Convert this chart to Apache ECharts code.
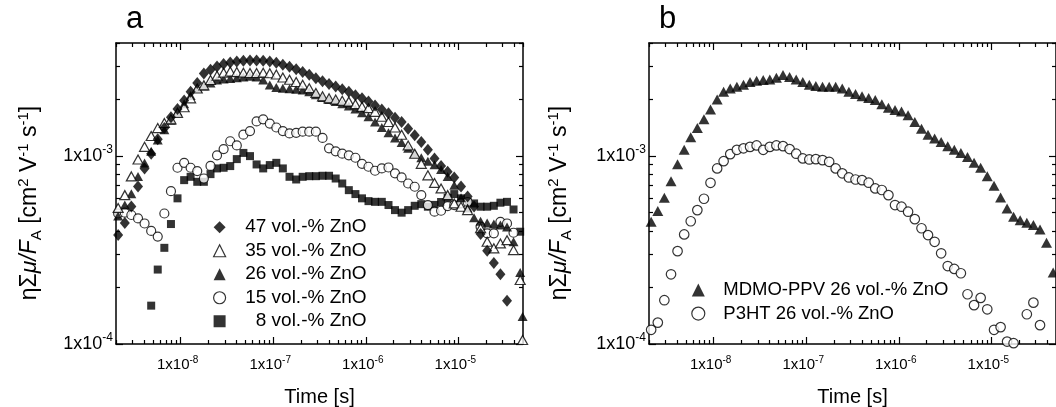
<!DOCTYPE html>
<html>
<head>
<meta charset="utf-8">
<title>Transient photoconductivity vs. time</title>
<script src="https://cdn.jsdelivr.net/npm/echarts@6.0.0/dist/echarts.min.js"></script>
<style>
  html, body { margin: 0; padding: 0; background: #fff; }
  #chart { width: 1056px; height: 407px; }
</style>
</head>
<body>
<div id="chart"></div>
<script>
// Common time base of the transients [s]
const times = [
  2.11e-9, 2.49e-9, 2.93e-9, 3.46e-9, 4.07e-9, 4.80e-9, 5.65e-9, 6.66e-9, 7.85e-9, 9.24e-9,
  1.09e-8, 1.28e-8, 1.51e-8, 1.78e-8, 2.10e-8, 2.47e-8, 2.91e-8, 3.43e-8, 4.04e-8, 4.76e-8,
  5.61e-8, 6.61e-8, 7.79e-8, 9.18e-8, 1.08e-7, 1.27e-7, 1.50e-7, 1.77e-7, 2.08e-7, 2.45e-7,
  2.89e-7, 3.41e-7, 4.01e-7, 4.73e-7, 5.57e-7, 6.56e-7, 7.73e-7, 9.11e-7, 1.07e-6, 1.26e-6,
  1.49e-6, 1.76e-6, 2.07e-6, 2.44e-6, 2.87e-6, 3.38e-6, 3.98e-6, 4.69e-6, 5.53e-6, 6.51e-6,
  7.67e-6, 9.04e-6, 1.07e-5, 1.26e-5, 1.48e-5, 1.74e-5, 2.05e-5, 2.42e-5, 2.85e-5, 3.36e-5,
  3.95e-5, 4.66e-5, 4.95e-5
];

// eta*Sum(mu)/F_A in units of 1e-3 cm^2 V^-1 s^-1, one entry per time point
const UNIT = 1e-3;

// Panel a: MDMO-PPV blends with different ZnO content
const zno47 = [
  0.38, 0.44, 0.54, 0.69, 0.86, 1.03, 1.23, 1.41, 1.61, 1.78,
  1.98, 2.2, 2.45, 2.75, 2.88, 3.0, 3.09, 3.15, 3.19, 3.22,
  3.23, 3.23, 3.22, 3.19, 3.14, 3.06, 2.99, 2.9, 2.8, 2.71,
  2.6, 2.5, 2.42, 2.35, 2.27, 2.2, 2.11, 2.03, 1.95, 1.86,
  1.77, 1.69, 1.6, 1.52, 1.4, 1.29, 1.19, 1.08, 0.97, 0.885,
  0.826, 0.77, 0.69, 0.61, 0.54, 0.385, 0.314, 0.27, 0.235, 0.17,
  null, null, null
];
const zno35 = [
  0.53, 0.62, 0.78, 0.96, 1.12, 1.28, 1.41, 1.5, 1.57, 1.7,
  1.82, 2.03, 2.29, 2.38, 2.54, 2.68, 2.78, 2.82, 2.8, 2.78,
  2.77, 2.77, 2.78, 2.76, 2.72, 2.62, 2.55, 2.48, 2.4, 2.3,
  2.17, 2.08, 2.03, 2.0, 1.97, 1.95, 1.89, 1.83, 1.8, 1.72,
  1.62, 1.52, 1.42, 1.3, 1.14, 1.03, 0.91, 0.79, 0.72, 0.673,
  0.62, 0.56, 0.538, 0.516, null, 0.413, 0.35, 0.323, 0.343, 0.357,
  0.316, 0.219, 0.105
];
const zno26 = [
  0.48, 0.55, 0.63, 0.78, 0.92, 1.06, 1.22, 1.38, 1.55, 1.72,
  1.9, 2.1, 2.3, 2.36, 2.45, 2.54, 2.57, 2.59, 2.61, 2.64,
  2.66, 2.64, 2.54, 2.39, 2.32, 2.3, 2.28, 2.27, 2.25, 2.2,
  2.12, 2.05, 2.0, 1.95, 1.9, 1.85, 1.78, 1.7, 1.62, 1.52,
  1.42, 1.33, 1.25, 1.18, 1.1, 1.03, 0.98, 0.94, 0.9, 0.85,
  0.78, 0.7, 0.6, 0.53, 0.47, 0.45, 0.44, 0.435, 0.43, 0.42,
  0.35, 0.24, 0.14
];
const zno15 = [
  0.495, 0.5, 0.486, 0.466, 0.438, 0.4, 0.373, 0.495, 0.651, 0.867,
  0.921, 0.867, 0.832, 0.76, 0.887, 1.01, 1.09, 1.2, 1.14, 1.3,
  1.36, 1.53, 1.57, 1.49, 1.42, 1.36, 1.32, 1.33, 1.35, 1.35,
  1.35, 1.25, 1.1, 1.06, 1.03, 1.01, 0.98, 0.91, 0.878, 0.836,
  0.86, 0.87, 0.81, 0.77, 0.715, 0.687, 0.62, 0.549, 0.506, 0.512,
  0.542, 0.549, 0.56, 0.57, null, 0.421, 0.388, 0.388, 0.447, 0.438,
  0.391, null, null
];
const zno8 = [
  null, null, null, null, null, 0.16, 0.249, 0.325, 0.435, 0.596,
  0.745, 0.776, 0.73, 0.73, 0.802, 0.86, 0.867, 0.885, 0.964, 1.04,
  1.0, 0.903, 0.86, 0.896, 0.921, 0.86, 0.776, 0.751, 0.776, 0.782,
  0.782, 0.786, 0.786, 0.76, 0.715, 0.659, 0.628, 0.596, 0.576, 0.571,
  0.571, 0.549, 0.516, 0.5, 0.516, 0.544, 0.555, 0.538, 0.55, 0.57,
  0.6, 0.628, 0.596, 0.57, 0.56, 0.538, 0.538, 0.544, 0.565, 0.571,
  0.52, 0.396, null
];

// Panel b: MDMO-PPV vs. P3HT, both with 26 vol.-% ZnO
const mdmoPpv26 = [
  0.447, 0.51, 0.6, 0.736, 0.906, 1.08, 1.26, 1.41, 1.57, 1.77,
  2.0, 2.2, 2.29, 2.34, 2.4, 2.48, 2.52, 2.54, 2.56, 2.61,
  2.7, 2.64, 2.56, 2.48, 2.4, 2.36, 2.34, 2.34, 2.34, 2.29,
  2.2, 2.14, 2.08, 2.04, 1.99, 1.89, 1.81, 1.76, 1.73, 1.65,
  1.52, 1.4, 1.3, 1.24, 1.19, 1.13, 1.08, 1.04, 0.99, 0.921,
  0.867, 0.782, 0.695, 0.603, 0.527, 0.476, 0.456, 0.442, 0.43, 0.407,
  0.346, 0.24, null
];
const p3ht26 = [
  0.119, 0.13, 0.171, 0.235, 0.312, 0.383, 0.45, 0.516, 0.593, 0.721,
  0.86, 0.94, 1.025, 1.08, 1.1, 1.12, 1.14, 1.08, 1.12, 1.14,
  1.13, 1.09, 1.03, 0.972, 0.96, 0.964, 0.952, 0.933, 0.86, 0.81,
  0.77, 0.751, 0.745, 0.722, 0.673, 0.66, 0.62, 0.549, 0.538, 0.506,
  0.462, 0.413, 0.38, 0.35, 0.304, 0.26, 0.251, 0.238, 0.184, 0.161,
  0.176, 0.153, 0.119, 0.123, 0.103, 0.101, null, 0.144, 0.166, 0.126,
  null, null, null
];

// Series names
const namesA = ['47 vol.-% ZnO', '35 vol.-% ZnO', '26 vol.-% ZnO', '15 vol.-% ZnO', '8 vol.-% ZnO'];
const namesB = ['MDMO-PPV 26 vol.-% ZnO', 'P3HT 26 vol.-% ZnO'];

// Axis ranges and tick positions
const xRange = [2e-9, 5e-5];
const yRange = [1e-4, 4e-3];
const xMajorTicks = [1e-8, 1e-7, 1e-6, 1e-5];
const xMinorTicks = [
  2e-9, 3e-9, 4e-9, 5e-9, 6e-9, 7e-9, 8e-9, 9e-9,
  2e-8, 3e-8, 4e-8, 5e-8, 6e-8, 7e-8, 8e-8, 9e-8,
  2e-7, 3e-7, 4e-7, 5e-7, 6e-7, 7e-7, 8e-7, 9e-7,
  2e-6, 3e-6, 4e-6, 5e-6, 6e-6, 7e-6, 8e-6, 9e-6,
  2e-5, 3e-5, 4e-5, 5e-5
];
const yMajorTicks = [1e-4, 1e-3];
const yMinorTicks = [2e-4, 3e-4, 4e-4, 5e-4, 6e-4, 7e-4, 8e-4, 9e-4, 2e-3, 3e-3, 4e-3];

const xTitle = 'Time [s]';
const panelLetters = ['a', 'b'];

// ---------------------------------------------------------------
const FONT = "'Liberation Sans', Arial, Helvetica, sans-serif";
const LOG = Math.log10;
const BLACK = '#000';

// Log-log plot: values are placed on linear axes in decades
function toPoints(vals) {
  const out = [];
  vals.forEach((v, i) => {
    if (v != null) out.push([LOG(times[i]), LOG(v * UNIT)]);
  });
  return out;
}

function powLabel(v) {
  return '{b|1x10}{s|' + Math.round(v) + '}';
}

const frameLine = { show: true, onZero: false, lineStyle: { color: BLACK, width: 1.5 } };
const tickStyle = { color: BLACK, width: 1.2 };

function xAxesFor(gridIndex) {
  const base = {
    type: 'value', gridIndex, min: LOG(xRange[0]), max: LOG(xRange[1]),
    splitLine: { show: false }
  };
  return [
    Object.assign({}, base, {
      position: 'bottom',
      axisLine: frameLine,
      axisTick: { inside: true, length: 7, customValues: xMajorTicks.map(LOG), lineStyle: tickStyle },
      axisLabel: {
        customValues: xMajorTicks.map(LOG), margin: 11, formatter: powLabel, color: BLACK,
        fontFamily: FONT, fontSize: 15, padding: [0, 6, 0, 0],
        rich: {
          b: { fontFamily: FONT, fontSize: 15, lineHeight: 20, color: BLACK },
          s: { fontFamily: FONT, fontSize: 10, lineHeight: 10, verticalAlign: 'top', color: BLACK }
        }
      },
      name: xTitle, nameLocation: 'middle', nameGap: 43,
      nameTextStyle: { fontFamily: FONT, fontSize: 20, color: BLACK }
    }),
    Object.assign({}, base, {
      position: 'bottom',
      axisLine: { show: false },
      axisTick: { inside: true, length: 4, customValues: xMinorTicks.map(LOG), lineStyle: tickStyle },
      axisLabel: { show: false }
    }),
    Object.assign({}, base, {
      position: 'top',
      axisLine: frameLine,
      axisTick: { inside: true, length: 7, customValues: xMajorTicks.map(LOG), lineStyle: tickStyle },
      axisLabel: { show: false }
    }),
    Object.assign({}, base, {
      position: 'top',
      axisLine: { show: false },
      axisTick: { inside: true, length: 4, customValues: xMinorTicks.map(LOG), lineStyle: tickStyle },
      axisLabel: { show: false }
    })
  ];
}

function yAxesFor(gridIndex) {
  const base = {
    type: 'value', gridIndex, min: LOG(yRange[0]), max: LOG(yRange[1]),
    splitLine: { show: false }
  };
  return [
    Object.assign({}, base, {
      position: 'left',
      axisLine: frameLine,
      axisTick: { inside: true, length: 7, customValues: yMajorTicks.map(LOG), lineStyle: tickStyle },
      axisLabel: {
        customValues: yMajorTicks.map(LOG), margin: 3, formatter: powLabel, color: BLACK,
        fontFamily: FONT, fontSize: 18,
        rich: {
          b: { fontFamily: FONT, fontSize: 18, lineHeight: 24, color: BLACK },
          s: { fontFamily: FONT, fontSize: 12, lineHeight: 12, verticalAlign: 'top', color: BLACK }
        }
      }
    }),
    Object.assign({}, base, {
      position: 'left',
      axisLine: { show: false },
      axisTick: { inside: true, length: 4, customValues: yMinorTicks.map(LOG), lineStyle: tickStyle },
      axisLabel: { show: false }
    }),
    Object.assign({}, base, {
      position: 'right',
      axisLine: frameLine,
      axisTick: { inside: true, length: 7, customValues: yMajorTicks.map(LOG), lineStyle: tickStyle },
      axisLabel: { show: false }
    }),
    Object.assign({}, base, {
      position: 'right',
      axisLine: { show: false },
      axisTick: { inside: true, length: 4, customValues: yMinorTicks.map(LOG), lineStyle: tickStyle },
      axisLabel: { show: false }
    })
  ];
}

const filled = { color: BLACK };
const open = { color: '#fff', borderColor: BLACK, borderWidth: 1.2 };

function scatter(name, vals, symbol, size, style, axisIndex) {
  return {
    type: 'scatter', name, data: toPoints(vals), symbol, symbolSize: size,
    itemStyle: style, xAxisIndex: axisIndex, yAxisIndex: axisIndex,
    emphasis: { disabled: true }, silent: true
  };
}

const yTitle = '{n|ηΣ}{i|μ/F}{sub|A}{n| [cm}{sup|2}{n| V}{sup|-1}{n| s}{sup|-1}{n|]}';
const yTitleRich = {
  n: { fontFamily: FONT, fontSize: 23, lineHeight: 28, fill: BLACK },
  i: { fontFamily: FONT, fontSize: 23, lineHeight: 28, fontStyle: 'italic', fill: BLACK },
  sub: { fontFamily: FONT, fontSize: 15, lineHeight: 15, verticalAlign: 'bottom', fill: BLACK },
  sup: { fontFamily: FONT, fontSize: 15, lineHeight: 15, verticalAlign: 'top', fill: BLACK }
};

// Legend: square symbol box, text pushed right by a left padding on the label
function legendFor(names, left, top, iconSize, fontSize, textPad, rightAlignWidth) {
  const r = { fontFamily: FONT, fontSize, color: BLACK, padding: [0, 0, 0, textPad] };
  if (rightAlignWidth) { r.width = rightAlignWidth; r.align = 'right'; r.padding = [0, 0, 0, 0]; }
  return {
    data: names, orient: 'vertical', left, top,
    itemWidth: iconSize, itemHeight: iconSize, itemGap: 0,
    selectedMode: false,
    itemStyle: { borderWidth: 1.2 },
    formatter: n => '{r|' + n + '}',
    textStyle: { fontFamily: FONT, fontSize, lineHeight: 23.5, color: BLACK, rich: { r } }
  };
}

const option = {
  animation: false,
  backgroundColor: '#fff',
  // fixed plot rectangles; labels are allowed to sit outside them
  grid: [
    { left: 116, top: 43, width: 407, height: 301, outerBoundsMode: 'none', containLabel: false },
    { left: 649, top: 43, width: 407, height: 301, outerBoundsMode: 'none', containLabel: false }
  ],
  xAxis: xAxesFor(0).concat(xAxesFor(1)),
  yAxis: yAxesFor(0).concat(yAxesFor(1)),
  legend: [
    // icon centre x = 214, label box ends x = 361
    legendFor(namesA, 208, 210.5, 12, 19, 0, 136),
    // icon centre x = 692.7, label starts x = 717.7
    legendFor(namesB, 686.2, 273.3, 13, 18.5, 13.5, 0)
  ],
  series: [
    scatter(namesA[4], zno8, 'rect', 8, filled, 0),
    scatter(namesA[3], zno15, 'circle', 9, open, 0),
    scatter(namesA[2], zno26, 'triangle', [10, 9], filled, 0),
    scatter(namesA[1], zno35, 'triangle', [10, 9], open, 0),
    scatter(namesA[0], zno47, 'diamond', [10, 12], filled, 0),
    scatter(namesB[1], p3ht26, 'circle', 9.5, open, 4),
    scatter(namesB[0], mdmoPpv26, 'triangle', [11, 10], filled, 4)
  ],
  graphic: [
    { type: 'text', x: 30, y: 203, rotation: Math.PI / 2, silent: true,
      style: { text: yTitle, rich: yTitleRich, align: 'center', verticalAlign: 'middle', fill: BLACK } },
    { type: 'text', x: 560, y: 203, rotation: Math.PI / 2, silent: true,
      style: { text: yTitle, rich: yTitleRich, align: 'center', verticalAlign: 'middle', fill: BLACK } },
    { type: 'text', x: 126, y: 19.3, silent: true,
      style: { text: panelLetters[0], font: '31px ' + FONT, fill: BLACK, verticalAlign: 'middle' } },
    { type: 'text', x: 659, y: 19.3, silent: true,
      style: { text: panelLetters[1], font: '31px ' + FONT, fill: BLACK, verticalAlign: 'middle' } }
  ]
};

const chart = echarts.init(document.getElementById('chart'), null, { renderer: 'canvas' });
chart.setOption(option);
</script>
</body>
</html>
